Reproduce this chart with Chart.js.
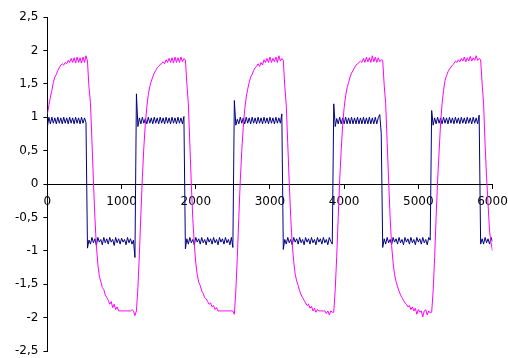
<!DOCTYPE html>
<html><head><meta charset="utf-8">
<script src="https://cdn.jsdelivr.net/npm/chart.js@4"></script>
<style>html,body{margin:0;padding:0;background:#fff;}canvas{display:block;}</style>
</head><body>
<canvas id="c" width="508" height="358"></canvas>
<script>
// sampling grid of the recorded traces (x axis)
const sampleStart = 0;
const sampleStep = 20;

const xTickValues = [0, 1000, 2000, 3000, 4000, 5000, 6000];
const yTickValues = [-2.5, -2, -1.5, -1, -0.5, 0, 0.5, 1, 1.5, 2, 2.5];

// magenta trace (one value per sample)
const magentaTrace = [
  1.05,1.18,1.3,1.4,1.52,1.6,1.64,1.7,1.74,1.78,1.8,1.78,1.82,1.8,1.85,1.82,1.88,1.82,1.89,1.81,1.9,1.82,1.89,1.81,1.9,1.82,1.92,
  1.84,1.45,1.22,0.65,0.05,-0.5,-0.92,-1.2,-1.38,-1.46,-1.55,-1.58,-1.66,-1.7,-1.74,-1.8,-1.76,-1.85,-1.8,-1.88,-1.84,-1.9,-1.9,-1.9,-1.9,-1.9,-1.9,-1.9,-1.9,-1.9,-1.88,-1.9,-1.97,
  -1.9,-1.55,-1.05,-0.45,0.1,0.55,0.9,1.15,1.34,1.46,1.54,1.6,1.66,1.7,1.74,1.76,1.79,1.8,1.83,1.8,1.86,1.82,1.88,1.82,1.89,1.81,1.9,1.82,1.89,1.82,1.9,1.83,1.88,
  1.86,1.5,1.2,0.6,0.0,-0.52,-0.9,-1.18,-1.36,-1.47,-1.52,-1.6,-1.64,-1.7,-1.72,-1.76,-1.8,-1.78,-1.84,-1.82,-1.88,-1.85,-1.9,-1.9,-1.9,-1.9,-1.9,-1.9,-1.9,-1.9,-1.9,-1.9,-1.9,
  -1.95,-1.6,-1.1,-0.5,0.05,0.5,0.85,1.12,1.3,1.42,1.52,1.6,1.64,1.7,1.74,1.76,1.8,1.76,1.82,1.78,1.86,1.82,1.88,1.82,1.9,1.82,1.88,1.83,1.9,1.82,1.92,1.84,1.88,
  1.85,1.46,1.18,0.6,0.02,-0.5,-0.9,-1.16,-1.35,-1.45,-1.52,-1.6,-1.66,-1.7,-1.74,-1.78,-1.82,-1.8,-1.86,-1.83,-1.9,-1.86,-1.92,-1.88,-1.9,-1.9,-1.9,-1.9,-1.9,-1.94,-1.9,-1.96,-1.9,-1.92,
  -1.92,-1.58,-1.08,-0.5,0.05,0.5,0.88,1.14,1.32,1.44,1.52,1.6,1.66,1.7,1.74,1.78,1.8,1.82,1.84,1.82,1.88,1.82,1.9,1.83,1.89,1.82,1.92,1.83,1.9,1.82,1.89,1.83,1.86,
  1.85,1.48,1.2,0.62,0.04,-0.5,-0.92,-1.18,-1.36,-1.46,-1.54,-1.6,-1.66,-1.7,-1.74,-1.78,-1.8,-1.84,-1.82,-1.88,-1.84,-1.9,-1.86,-1.95,-1.88,-1.92,-1.9,-1.99,-1.9,-1.88,-1.96,-1.9,-1.93,
  -1.92,-1.6,-1.1,-0.5,0.05,0.48,0.9,1.2,1.4,1.55,1.62,1.68,1.72,1.75,1.78,1.8,1.84,1.82,1.86,1.83,1.88,1.84,1.9,1.83,1.89,1.84,1.91,1.84,1.89,1.85,1.92,1.85,1.88,
  1.86,1.5,1.2,0.6,0.1,-0.3,-0.7,-0.88,-1.0
];

// navy trace (one value per sample)
const navyTrace = [
  0.86,1.0,0.9,1.0,0.91,0.99,0.9,1.0,0.91,0.99,0.9,1.0,0.91,0.99,0.9,1.0,0.91,0.99,0.9,1.0,0.91,0.99,0.9,1.0,0.91,0.99,0.92,
  -0.96,-0.84,-0.9,-0.8,-0.88,-0.82,-0.92,-0.8,-0.87,-0.83,-0.91,-0.8,-0.88,-0.82,-0.9,-0.8,-0.87,-0.83,-0.92,-0.8,-0.88,-0.82,-0.9,-0.81,-0.87,-0.83,-0.91,-0.8,-0.88,-0.82,-0.9,-0.84,-1.1,
  1.35,0.86,0.99,0.9,1.0,0.91,0.98,0.9,1.0,0.91,0.99,0.9,1.0,0.91,0.99,0.9,1.0,0.91,0.99,0.9,1.0,0.91,0.99,0.9,1.0,0.91,0.99,0.9,1.0,0.91,0.99,0.9,1.01,
  -0.97,-0.82,-0.9,-0.8,-0.88,-0.83,-0.91,-0.8,-0.87,-0.82,-0.9,-0.8,-0.88,-0.83,-0.91,-0.8,-0.87,-0.82,-0.9,-0.8,-0.88,-0.83,-0.91,-0.8,-0.87,-0.82,-0.9,-0.8,-0.88,-0.83,-0.91,-0.8,-0.95,
  1.25,0.88,0.97,0.9,1.0,0.91,0.99,0.9,1.0,0.91,0.99,0.9,1.0,0.91,0.99,0.9,1.0,0.91,0.99,0.9,1.0,0.91,0.99,0.9,1.0,0.91,0.99,0.9,1.0,0.91,0.99,0.91,1.05,
  -0.98,-0.83,-0.9,-0.8,-0.88,-0.83,-0.91,-0.8,-0.87,-0.82,-0.9,-0.8,-0.88,-0.83,-0.91,-0.8,-0.87,-0.82,-0.9,-0.8,-0.88,-0.83,-0.91,-0.8,-0.87,-0.82,-0.9,-0.8,-0.88,-0.83,-0.91,-0.8,-0.86,-0.9,
  1.2,0.86,0.98,0.9,1.0,0.9,0.99,0.9,1.0,0.9,0.99,0.9,1.0,0.9,0.99,0.9,1.0,0.9,0.99,0.9,1.0,0.9,0.99,0.9,1.0,0.9,0.99,0.9,1.0,0.9,0.99,1.04,0.76,
  -0.95,-0.82,-0.9,-0.8,-0.88,-0.83,-0.91,-0.8,-0.87,-0.82,-0.9,-0.8,-0.88,-0.83,-0.91,-0.8,-0.87,-0.82,-0.9,-0.8,-0.88,-0.83,-0.91,-0.8,-0.87,-0.82,-0.9,-0.8,-0.88,-0.83,-0.91,-0.8,-0.84,
  1.1,0.88,0.99,0.9,1.0,0.91,0.99,0.9,1.0,0.91,0.99,0.9,1.0,0.91,0.99,0.9,1.0,0.91,0.99,0.9,1.0,0.91,0.99,0.9,1.0,0.91,0.99,0.9,1.0,0.91,0.99,0.9,1.03,
  -0.9,-0.82,-0.9,-0.8,-0.88,-0.82,-0.9,-0.8,-0.86
];

const toPoints = arr => arr.map((y, i) => ({ x: sampleStart + i * sampleStep, y }));
const fmtY = v => String(Math.round(v * 10) / 10).replace('.', ',');
const tickFont = { family: 'DejaVu Sans', size: 12 };
const noScalePadding = s => { s.paddingTop = 0; s.paddingBottom = 0; s.paddingLeft = 0; s.paddingRight = 0; };

new Chart(document.getElementById('c').getContext('2d'), {
  type: 'line',
  data: {
    datasets: [
      { label: 'magenta', data: toPoints(magentaTrace), borderColor: '#FF00FF', borderWidth: 1, pointRadius: 0, tension: 0, fill: false },
      { label: 'navy', data: toPoints(navyTrace), borderColor: '#000080', borderWidth: 1, pointRadius: 0, tension: 0, fill: false }
    ]
  },
  options: {
    responsive: false,
    animation: false,
    devicePixelRatio: 1,
    layout: { padding: { left: 10, right: 15.5, top: 17, bottom: 7 } },
    plugins: { legend: { display: false }, tooltip: { enabled: false } },
    scales: {
      x: {
        type: 'linear', position: { y: 0 }, min: 0, max: 6000,
        afterBuildTicks: s => { s.ticks = xTickValues.map(v => ({ value: v })); },
        afterFit: noScalePadding,
        ticks: { callback: v => String(v), color: '#000', font: tickFont, padding: 7, maxRotation: 0, autoSkip: false },
        grid: { drawOnChartArea: false, drawTicks: true, tickLength: 4, color: '#000' },
        border: { display: true, color: '#000', width: 1 }
      },
      y: {
        type: 'linear', min: -2.5, max: 2.5,
        afterBuildTicks: s => { s.ticks = yTickValues.map(v => ({ value: v })); },
        afterFit: noScalePadding,
        ticks: { callback: v => fmtY(v), color: '#000', font: tickFont, padding: 5, autoSkip: false },
        grid: { drawOnChartArea: false, drawTicks: true, tickLength: 4, color: '#000' },
        border: { display: true, color: '#000', width: 1 }
      }
    }
  }
});
</script>
</body></html>
